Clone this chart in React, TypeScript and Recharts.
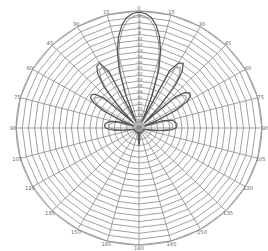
import React from 'react';
import { RadarChart, Radar, PolarGrid, PolarAngleAxis, PolarRadiusAxis } from 'recharts';

const angles: number[] = [
  0, 3, 6, 9, 12, 15, 18, 21, 24, 27, 30, 33, 36, 39, 42, 45, 48, 51, 54, 57,
  60, 63, 66, 69, 72, 75, 78, 81, 84, 87, 90, 93, 96, 99, 102, 105, 108, 111, 114, 117,
  120, 123, 126, 129, 132, 135, 138, 141, 144, 147, 150, 153, 156, 159, 162, 165, 168, 171, 174, 177,
  180, 183, 186, 189, 192, 195, 198, 201, 204, 207, 210, 213, 216, 219, 222, 225, 228, 231, 234, 237,
  240, 243, 246, 249, 252, 255, 258, 261, 264, 267, 270, 273, 276, 279, 282, 285, 288, 291, 294, 297,
  300, 303, 306, 309, 312, 315, 318, 321, 324, 327, 330, 333, 336, 339, 342, 345, 348, 351, 354, 357,
];

const measured: number[] = [
  // 0 .. 57
  -0.4, -0.8, -2, -4.4, -8, -12.8, -19.2, -28, -37.6, -18, -14.4, -13.6, -16, -21.2, -29.6, -37.6, -24, -20.8, -19.6, -20,
  // 60 .. 117
  -22, -26, -32.8, -38, -32, -29.6, -28.4, -28, -27.6, -27.6, -28, -29.2, -31.6, -34.8, -37.2, -38, -38.4, -38.4, -38.4, -38.4,
  // 120 .. 177
  -38.4, -38.4, -38.4, -38.4, -38.4, -38.4, -38.4, -38.4, -38.4, -38.4, -38.4, -38.4, -38.4, -38.4, -38.4, -38.4, -38.4, -38.4, -37.6, -36,
  // 180 .. 237
  -34, -36, -37.6, -38.4, -38.4, -38.4, -38.4, -38.4, -38.4, -38.4, -38.4, -38.4, -38.4, -38.4, -38.4, -38.4, -38.4, -38.4, -38.4, -38.4,
  // 240 .. 297
  -38.4, -38.4, -38.4, -38.4, -38.4, -38, -37.2, -35.2, -32.4, -30.4, -29.2, -28.8, -28.8, -29.2, -30, -31.2, -33.2, -38, -33.2, -26.8,
  // 300 .. 357
  -23.2, -21.2, -20.8, -21.6, -24.8, -37.6, -30, -22, -17.2, -14.8, -14.4, -18.4, -37.6, -27.6, -19.2, -12.8, -8, -4.4, -2, -0.8,
];

const simulated: number[] = [
  // 0 .. 57
  -1.4, -1.8, -3.2, -5.8, -9.6, -14.4, -20.8, -29.6, -37.6, -19.6, -16, -15.2, -17.6, -22.8, -31.2, -37.6, -25.6, -22.4, -21.2, -21.6,
  // 60 .. 117
  -23.6, -27.6, -34, -38, -33.2, -31, -29.8, -29.4, -29, -29, -29.4, -30.6, -32.8, -35.6, -37.6, -38.4, -38.8, -38.8, -38.8, -38.8,
  // 120 .. 177
  -38.8, -38.8, -38.8, -38.8, -38.8, -38.8, -38.8, -38.8, -38.8, -38.8, -38.8, -38.8, -38.8, -38.8, -38.8, -38.8, -38.8, -38.8, -38, -36.8,
  // 180 .. 237
  -35, -36.8, -38, -38.8, -38.8, -38.8, -38.8, -38.8, -38.8, -38.8, -38.8, -38.8, -38.8, -38.8, -38.8, -38.8, -38.8, -38.8, -38.8, -38.8,
  // 240 .. 297
  -38.8, -38.8, -38.8, -38.8, -38.8, -38.4, -37.6, -36, -33.6, -31.8, -30.6, -30.2, -30.2, -30.6, -31.4, -32.6, -34.4, -38, -34.4, -28.4,
  // 300 .. 357
  -24.8, -22.8, -22.4, -23.2, -26.4, -37.6, -31.6, -23.6, -18.8, -16.4, -16, -20, -37.6, -29.2, -20.8, -14.4, -9.6, -5.8, -3.2, -1.8,
];

const spokeAngles: number[] = [0, 15, 30, 45, 60, 75, 90, 105, 120, 135, 150, 165, 180, 195, 210, 225, 240, 255, 270, 285, 300, 315, 330, 345];

const data = angles.map((a, i) => ({ angle: a, measured: measured[i], simulated: simulated[i] }));

const angleLabel = (v: number) => {
  if (v % 15 !== 0) return '';
  return String(v <= 180 ? v : 360 - v);
};

const AngleTick = (props: any) => {
  const { x, y, payload } = props;
  const label = angleLabel(payload.value);
  if (!label) return null;
  return (
    <text x={x} y={y} textAnchor="middle" dominantBaseline="central" fontSize={5} fill="#666" fontFamily="DejaVu Sans">
      {label}
    </text>
  );
};

const radiusLabel = (v: number) => (v === 0 ? '' : String(v));

export default function App() {
  return (
    <div style={{ position: 'absolute', left: 0, top: 0, width: 268, height: 251, background: '#fff', transform: 'scaleX(1.05)', transformOrigin: '139px 128px' }}>
      <RadarChart width={268} height={251} data={data} cx={139} cy={128} outerRadius={117} startAngle={90} endAngle={-270} margin={{ top: 0, right: 0, bottom: 0, left: 0 }}>
        <PolarGrid stroke="#8c8c8c" strokeWidth={0.8} polarAngles={spokeAngles} />
        <PolarAngleAxis dataKey="angle" tick={<AngleTick />} tickSize={3} tickLine={false} axisLine={{ stroke: '#8c8c8c', strokeWidth: 0.8 }} />
        <PolarRadiusAxis angle={90} domain={[-40, 0]} tickCount={21} orientation="middle" axisLine={false} tickLine={false} tickFormatter={radiusLabel} tick={{ fontSize: 4, fill: '#777', fontFamily: 'DejaVu Sans' }} />
        <Radar dataKey="simulated" stroke="#8a8a8a" strokeWidth={0.9} fill="none" fillOpacity={0} dot={false} isAnimationActive={false} />
        <Radar dataKey="measured" stroke="#555" strokeWidth={1.2} fill="none" fillOpacity={0} dot={false} isAnimationActive={false} />
      </RadarChart>
    </div>
  );
}
